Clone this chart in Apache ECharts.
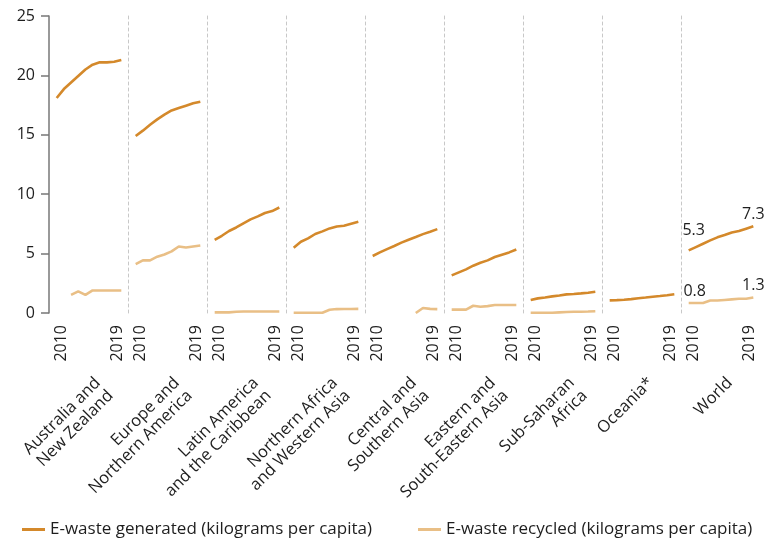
<!DOCTYPE html>
<html>
<head>
<meta charset="utf-8">
<script src="https://cdn.jsdelivr.net/npm/echarts@6/dist/echarts.min.js"></script>
<style>
html,body{margin:0;padding:0;background:#fff;}
#chart{width:779px;height:538px;}
</style>
</head>
<body>
<div id="chart"></div>
<script>
const years = [2010, 2011, 2012, 2013, 2014, 2015, 2016, 2017, 2018, 2019];
const yearTicks = [2010, 2019];
const regions = [
  'Australia and\nNew Zealand',
  'Europe and\nNorthern America',
  'Latin America\nand the Caribbean',
  'Northern Africa\nand Western Asia',
  'Central and\nSouthern Asia',
  'Eastern and\nSouth-Eastern Asia',
  'Sub-Saharan\nAfrica',
  'Oceania*',
  'World'
];
const generated = [
  [18.1, 18.85, 19.4, 19.95, 20.5, 20.9, 21.1, 21.1, 21.15, 21.3],
  [14.9, 15.35, 15.85, 16.3, 16.7, 17.05, 17.25, 17.45, 17.65, 17.78],
  [6.15, 6.5, 6.9, 7.2, 7.55, 7.88, 8.13, 8.42, 8.58, 8.88],
  [5.5, 6.0, 6.28, 6.65, 6.87, 7.12, 7.28, 7.35, 7.52, 7.68],
  [4.8, 5.1, 5.38, 5.64, 5.92, 6.17, 6.4, 6.64, 6.84, 7.06],
  [3.17, 3.42, 3.67, 3.98, 4.23, 4.43, 4.71, 4.91, 5.1, 5.35],
  [1.09, 1.23, 1.31, 1.4, 1.48, 1.57, 1.6, 1.65, 1.71, 1.79],
  [1.06, 1.08, 1.12, 1.17, 1.24, 1.3, 1.37, 1.43, 1.5, 1.58],
  [5.27, 5.55, 5.83, 6.11, 6.37, 6.56, 6.78, 6.9, 7.1, 7.3]
];
const recycled = [
  [null, null, 1.52, 1.82, 1.52, 1.9, 1.9, 1.9, 1.9, 1.9],
  [4.12, 4.43, 4.43, 4.74, 4.93, 5.19, 5.6, 5.52, 5.6, 5.68],
  [0.05, 0.05, 0.05, 0.1, 0.12, 0.12, 0.12, 0.12, 0.12, 0.13],
  [0.02, 0.02, 0.02, 0.02, 0.02, 0.27, 0.33, 0.34, 0.34, 0.35],
  [null, null, null, null, null, null, 0.0, 0.42, 0.35, 0.33],
  [0.28, 0.28, 0.28, 0.61, 0.53, 0.58, 0.67, 0.67, 0.67, 0.67],
  [0.02, 0.02, 0.02, 0.02, 0.05, 0.08, 0.1, 0.1, 0.12, 0.15],
  [],
  [0.84, 0.84, 0.84, 1.05, 1.05, 1.1, 1.15, 1.2, 1.2, 1.3]
];
const yTicks = { min: 0, max: 25, interval: 5 };
const genName = 'E-waste generated (kilograms per capita)';
const recName = 'E-waste recycled (kilograms per capita)';

const genColor = '#d4892b';
const recColor = '#e9bf86';
const textColor = '#1e1e1e';
const FONT = '"Open Sans", "Noto Sans", sans-serif';

const plotLeft = 49, plotTop = 16, plotHeight = 297, panelW = 79;
const n = regions.length;

const grids = [], xAxes = [], yAxes = [], series = [], graphics = [];
for (let i = 0; i < n; i++) {
  grids.push({ left: plotLeft + i * panelW, top: plotTop, width: panelW, height: plotHeight });
  xAxes.push({
    type: 'value', gridIndex: i, min: 2008.93, max: 2019.93,
    axisLine: { show: false }, axisTick: { show: false }, splitLine: { show: false },
    axisLabel: {
      customValues: yearTicks, rotate: 90, margin: 12,
      fontSize: 16, fontFamily: FONT, color: textColor,
      formatter: v => (v === yearTicks[0] ? '{a|' + v + '}' : '{b|' + v + '}'),
      rich: {
        a: { padding: [10, 0, 0, 0], fontSize: 16, fontFamily: FONT, color: textColor },
        b: { padding: [0, 0, 8, 0], fontSize: 16, fontFamily: FONT, color: textColor }
      }
    }
  });
  const first = i === 0;
  yAxes.push({
    type: 'value', gridIndex: i, min: yTicks.min, max: yTicks.max, interval: yTicks.interval,
    splitLine: { show: false },
    axisLine: first ? { show: true, lineStyle: { color: '#777', width: 1.5 } }
                    : { show: true, lineStyle: { color: '#c8c8c8', width: 1, type: [3, 3] } },
    axisTick: { show: first, length: 8, lineStyle: { color: '#777', width: 1.5 } },
    axisLabel: { show: first, fontSize: 16, fontFamily: FONT, color: textColor, margin: 14 }
  });
  const isWorld = i === n - 1;
  const mk = (arr, offsets) => years.map((y, k) => {
    const v = arr[k] === undefined ? null : arr[k];
    const item = { value: [y, v] };
    if (isWorld && (k === 0 || k === years.length - 1)) {
      item.label = {
        show: true, position: 'top', distance: 4,
        offset: offsets[k === 0 ? 0 : 1],
        formatter: p => p.value[1].toFixed(1),
        fontSize: 16, fontFamily: FONT, color: textColor
      };
    }
    return item;
  });
  series.push({
    name: genName, type: 'line', xAxisIndex: i, yAxisIndex: i,
    data: mk(generated[i], [[5, -8], [0, 0]]),
    showSymbol: true, symbol: 'circle', symbolSize: 0, silent: true,
    label: { show: false },
    lineStyle: { color: genColor, width: 2.6 }, itemStyle: { color: genColor }
  });
  series.push({
    name: recName, type: 'line', xAxisIndex: i, yAxisIndex: i,
    data: mk(recycled[i], [[6, 0], [0, 0]]),
    showSymbol: true, symbol: 'circle', symbolSize: 0, silent: true,
    label: { show: false },
    lineStyle: { color: recColor, width: 2.6 }, itemStyle: { color: recColor }
  });
  graphics.push({
    type: 'text',
    x: plotLeft + i * panelW + panelW / 2 + 3,
    y: 374,
    rotation: Math.PI / 4,
    style: {
      text: regions[i], align: 'right', verticalAlign: 'top',
      fontSize: 16.5, fontFamily: FONT, fill: textColor, lineHeight: 18
    }
  });
}

const chart = echarts.init(document.getElementById('chart'), null, { renderer: 'canvas' });
chart.setOption({
  animation: false,
  backgroundColor: '#fff',
  grid: grids,
  xAxis: xAxes,
  yAxis: yAxes,
  series: series,
  graphic: graphics,
  legend: {
    data: [
      { name: genName, icon: 'rect', itemStyle: { color: genColor } },
      { name: recName, icon: 'rect', itemStyle: { color: recColor } }
    ],
    left: 17, top: 516,
    itemWidth: 23, itemHeight: 3, itemGap: 46,
    textStyle: { fontSize: 17, fontFamily: FONT, color: textColor }
  }
});
</script>
</body>
</html>
